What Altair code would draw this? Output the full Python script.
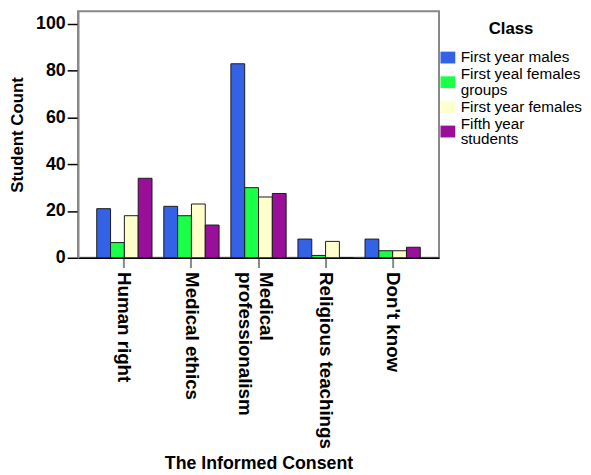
import altair as alt
import pandas as pd

categories = ["Human right", "Medical ethics", "Medical professionalism",
              "Religious teachings", "Don't know"]
classes = ["First year males", "First yeal females groups",
           "First year females", "Fifth year students"]
first_year_males = [21, 22, 83, 8, 8]
first_yeal_females_groups = [6.5, 18, 30, 1, 3]
first_year_females = [18, 23, 26, 7, 3]
fifth_year_students = [34, 14, 27.5, 0, 4.5]
colors = ["#3462e6", "#1aff48", "#ffffcc", "#9a0f9a"]
y_ticks = [0, 20, 40, 60, 80, 100]

series = [first_year_males, first_yeal_females_groups,
          first_year_females, fifth_year_students]
rows = []
for cls, vals in zip(classes, series):
    for cat, v in zip(categories, vals):
        rows.append({"consent": cat, "cls": cls, "count": v})
df = pd.DataFrame(rows)

FONT = "Liberation Sans"

# legend swatch shapes: swatches of two-line entries sit between their two lines
one_line = "M-1,-0.8H1V0.8H-1Z"
two_line = "M-1,0.27H1V1.87H-1Z"
shapes = [one_line, two_line, one_line, two_line]

legend = alt.Legend(
    title="Class", orient="none", legendX=367, legendY=10,
    titleFont=FONT, titleFontSize=17, titleFontWeight="bold", titleColor="#000000",
    titleAnchor="middle", titlePadding=12,
    labelFont=FONT, labelFontSize=15.5, labelColor="#000000", labelLimit=200,
    labelExpr="datum.label == 'First yeal females groups' ? ['First yeal females', 'groups'] : datum.label == 'Fifth year students' ? ['Fifth year', 'students'] : datum.label",
    symbolSize=225, symbolStrokeColor="#111111", symbolStrokeWidth=1,
    symbolOpacity=1, labelOffset=5, rowPadding=0, padding=0,
)

x_enc = alt.X("consent:N", sort=categories,
              scale=alt.Scale(paddingInner=0.176, paddingOuter=0.279),
              axis=alt.Axis(title="The Informed Consent", labelAngle=90,
                            labelAlign="left", labelBaseline="middle",
                            labelFont=FONT, labelFontSize=19, labelFontWeight="bold",
                            labelColor="#000000", labelPadding=4, labelLineHeight=22,
                            labelOffset={"condition": {"test": "datum.value === 'Medical professionalism'",
                                                       "value": 8}, "value": 0},
                            labelExpr="datum.label == 'Medical professionalism' ? ['Medical', 'professionalism'] : datum.label",
                            tickSize=10, tickColor="#888888", tickWidth=2,
                            domainColor="#000000", domainWidth=1.5,
                            titleFont=FONT, titleFontSize=18, titleFontWeight="bold",
                            titleColor="#000000", titlePadding=6))
xoff_enc = alt.XOffset("cls:N", sort=classes,
                       scale=alt.Scale(paddingInner=0, paddingOuter=0))
y_enc = alt.Y("count:Q", scale=alt.Scale(domain=[0, 105.5], nice=False),
              axis=alt.Axis(title="Student Count", values=y_ticks, grid=False,
                            labelFont=FONT, labelFontSize=18, labelFontWeight="bold",
                            labelColor="#000000", labelPadding=2,
                            tickSize=11, tickColor="#000000", tickWidth=1.5,
                            domainColor="#888888", domainWidth=2,
                            titleFont=FONT, titleFontSize=17, titleFontWeight="bold",
                            titleColor="#000000", titlePadding=9))
color_enc = alt.Color("cls:N", sort=classes,
                      scale=alt.Scale(domain=classes, range=colors),
                      legend=legend)

base = alt.Chart(df)
bars = base.mark_bar(stroke="#1a1a1a", strokeWidth=1).encode(
    x=x_enc, xOffset=xoff_enc, y=y_enc, color=color_enc)
keys = base.mark_point(filled=True, opacity=0).encode(
    x=x_enc, xOffset=xoff_enc, y=y_enc, color=color_enc,
    shape=alt.Shape("cls:N", sort=classes,
                    scale=alt.Scale(domain=classes, range=shapes),
                    legend=legend))

chart = alt.layer(bars, keys).properties(
    width=366, height=250,
    autosize=alt.AutoSizeParams(type="none"),
    padding={"left": 71, "top": 0, "right": 146, "bottom": 215},
).configure(
    style={"guide-label": {"lineHeight": 16}}
).configure_view(
    stroke="#888888", strokeWidth=2
)

chart.save("out.html", embed_options={"renderer": "svg", "actions": False})
